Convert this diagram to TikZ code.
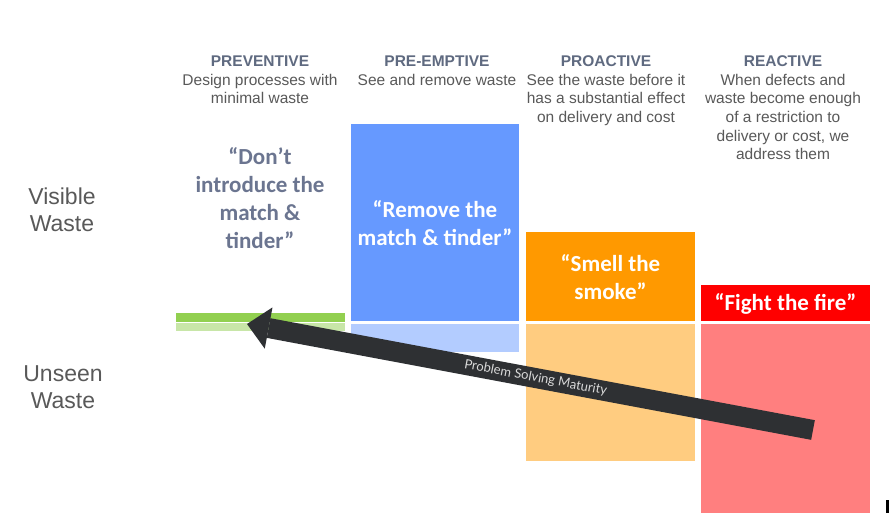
\documentclass[tikz,border=0pt]{standalone}
\usepackage{fontspec}
\setmainfont{Liberation Sans}
\newfontfamily\calfont{Carlito}
\newfontfamily\gillfont{Lato}
\usetikzlibrary{arrows.meta}
\definecolor{cblue}{HTML}{6699FF}
\definecolor{clblue}{HTML}{B3CCFF}
\definecolor{corange}{HTML}{FF9900}
\definecolor{clorange}{HTML}{FFCC80}
\definecolor{cred}{HTML}{FF0000}
\definecolor{cpink}{HTML}{FF7F7F}
\definecolor{cgreen}{HTML}{92D050}
\definecolor{clgreen}{HTML}{C8E6A8}
\definecolor{cdark}{HTML}{2E3033}
\definecolor{chead}{HTML}{5F6A80}
\definecolor{cdesc}{HTML}{595959}
\definecolor{cquote}{HTML}{6B7590}
\definecolor{carrowtxt}{HTML}{D9D9D9}
\begin{document}
\begin{tikzpicture}[x=1pt,y=-1pt,
  block/.style={anchor=north west, inner sep=0pt, outer sep=0pt, draw=none},
  qtext/.style={text=white, font=\calfont\bfseries\fontsize{23}{28}\selectfont, align=center},
  colhead/.style={anchor=base, inner sep=0pt, align=center, text=cdesc,
    font=\fontsize{15.5}{18.7}\selectfont},
  sidelabel/.style={anchor=base, inner sep=0pt, align=center, text=cdesc,
    font=\fontsize{23}{27.5}\selectfont}]
\useasboundingbox (0,0) rectangle (892,526);
\fill[white] (0,0) rectangle (892,526);

% column headers (anchor = baseline of the last line)
\node[colhead] (h1) at (260,103.9) {\textcolor{chead}{\bfseries PREVENTIVE}\\Design processes with\\minimal waste};
\node[colhead] (h2) at (437,85.2) {\textcolor{chead}{\bfseries PRE-EMPTIVE}\\See and remove waste};
\node[colhead] (h3) at (606,122.6) {\textcolor{chead}{\bfseries PROACTIVE}\\See the waste before it\\has a substantial effect\\on delivery and cost};
\node[colhead] (h4) at (783,160) {\textcolor{chead}{\bfseries REACTIVE}\\When defects and\\waste become enough\\of a restriction to\\delivery or cost, we\\address them};

% side labels
\node[sidelabel] (vis) at (62,232) {Visible\\Waste};
\node[sidelabel] (uns) at (63,409) {Unseen\\Waste};

% preventive quote
\node[anchor=base, inner sep=0pt, align=center, text=cquote,
  font=\calfont\bfseries\fontsize{23}{28}\selectfont] (q1) at (260,248.5)
  {“Don’t\\introduce the\\match \&\\tinder”};

% blocks
\node[block, fill=cblue, minimum width=168pt, minimum height=197pt] (b1) at (351,124) {};
\node[qtext] (q2) at ([yshift=-1pt]b1.center) {“Remove the\\match \& tinder”};
\node[block, fill=clblue, minimum width=168pt, minimum height=28pt] (b1l) at (351,324) {};

\node[block, fill=corange, minimum width=169pt, minimum height=89pt] (b2) at (526,232) {};
\node[qtext] (q3) at ([yshift=-1pt]b2.center) {“Smell the\\smoke”};
\node[block, fill=clorange, minimum width=169pt, minimum height=137pt] (b2l) at (526,324) {};

\node[block, fill=cred, minimum width=169pt, minimum height=36pt] (b3) at (701,285) {};
\node[qtext] (q4) at ([yshift=-1pt]b3.center) {“Fight the fire”};
\node[block, fill=cpink, minimum width=169pt, minimum height=189pt] (b3l) at (701,324) {};

\node[block, fill=cgreen, minimum width=169pt, minimum height=9pt] (g1) at (176,313) {};
\node[block, fill=clgreen, minimum width=169pt, minimum height=8pt] (g2) at (176,323) {};

% maturity arrow
\coordinate (tail) at (813,430);
\coordinate (tip) at (247,324);
\draw[cdark, line width=20pt, -{Triangle[length=22pt, width=42pt, line width=0pt]}]
  (tail) -- node[pos=0.49, sloped, text=carrowtxt, inner sep=0pt,
  font=\gillfont\fontsize{13}{14}\selectfont] (lbl) {Problem Solving Maturity} (tip);

% small mark
\fill[black] (886,500) rectangle (889,513);
\end{tikzpicture}
\end{document}
